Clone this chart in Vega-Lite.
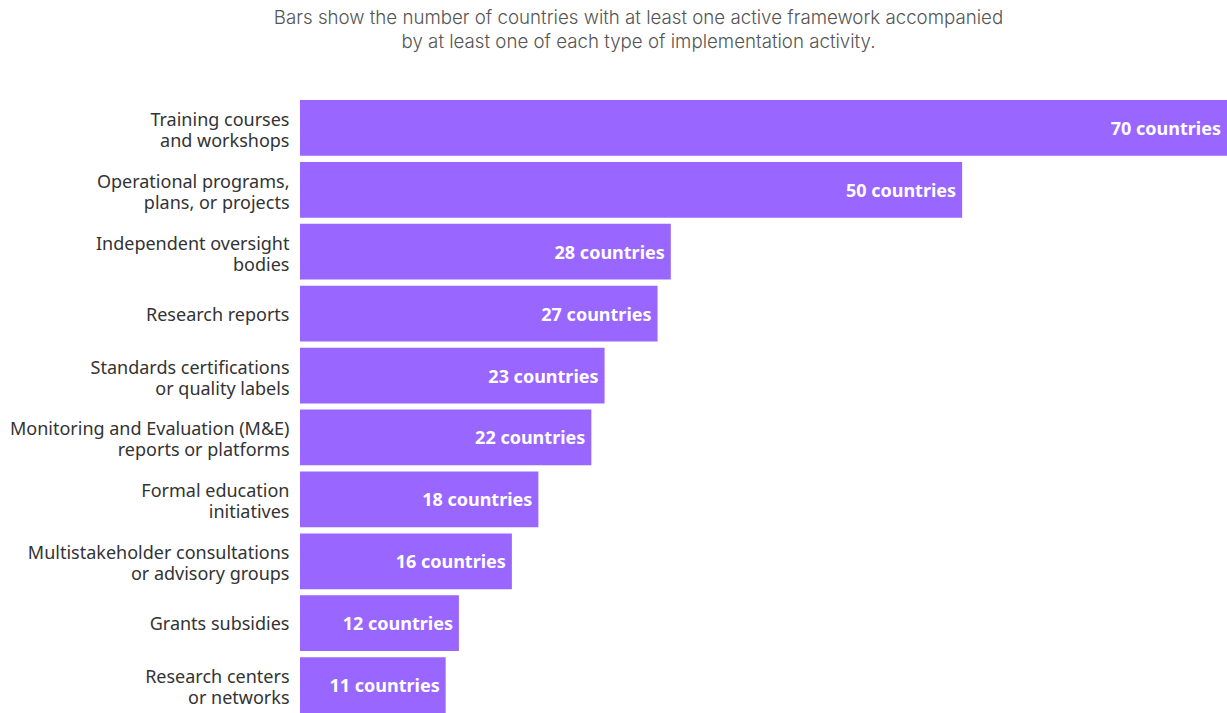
{
  "$schema": "https://vega.github.io/schema/vega-lite/v6.json",
  "autosize": "none",
  "width": 927,
  "height": 613,
  "padding": {"left": 300, "top": 100, "right": 0, "bottom": 0},
  "background": "white",
  "title": {
    "text": ["Bars show the number of countries with at least one active framework accompanied", "by at least one of each type of implementation activity."],
    "anchor": "middle",
    "frame": "group",
    "dx": -125,
    "offset": 48,
    "font": "Inter",
    "fontSize": 18.7,
    "fontWeight": 300,
    "color": "#555555",
    "lineHeight": 24
  },
  "config": {"view": {"stroke": null}},
  "data": {
    "values": [
      {"activity": "Training courses|and workshops", "count": 70, "label": "70 countries"},
      {"activity": "Operational programs,|plans, or projects", "count": 50, "label": "50 countries"},
      {"activity": "Independent oversight|bodies", "count": 28, "label": "28 countries"},
      {"activity": "Research reports", "count": 27, "label": "27 countries"},
      {"activity": "Standards certifications|or quality labels", "count": 23, "label": "23 countries"},
      {"activity": "Monitoring and Evaluation (M&E)|reports or platforms", "count": 22, "label": "22 countries"},
      {"activity": "Formal education|initiatives", "count": 18, "label": "18 countries"},
      {"activity": "Multistakeholder consultations|or advisory groups", "count": 16, "label": "16 countries"},
      {"activity": "Grants subsidies", "count": 12, "label": "12 countries"},
      {"activity": "Research centers|or networks", "count": 11, "label": "11 countries"}
    ]
  },
  "encoding": {
    "y": {
      "field": "activity",
      "type": "nominal",
      "sort": {"field": "count", "order": "descending"},
      "scale": {"paddingInner": 0.1, "paddingOuter": 0},
      "axis": {
        "title": null,
        "domain": false,
        "ticks": false,
        "labelPadding": 11,
        "labelFont": "Noto Sans",
        "labelFontSize": 18,
        "labelColor": "#333333",
        "labelBaseline": "middle",
        "labelLineHeight": 21,
        "labelLimit": 400,
        "labelOffset": {"condition": {"test": "indexof(datum.value, '|') >= 0", "value": -7}, "value": 2},
        "labelExpr": "split(datum.label, '|')"
      }
    },
    "x": {
      "field": "count",
      "type": "quantitative",
      "scale": {"domain": [0, 70], "nice": false},
      "axis": null
    }
  },
  "layer": [
    {"mark": {"type": "bar", "color": "#9966FF", "cornerRadius": 0}},
    {
      "mark": {"type": "text", "align": "right", "baseline": "middle", "dx": -6, "dy": 2, "font": "Noto Sans", "fontSize": 18, "fontWeight": "bold", "color": "white"},
      "encoding": {"text": {"field": "label"}}
    }
  ]
}
